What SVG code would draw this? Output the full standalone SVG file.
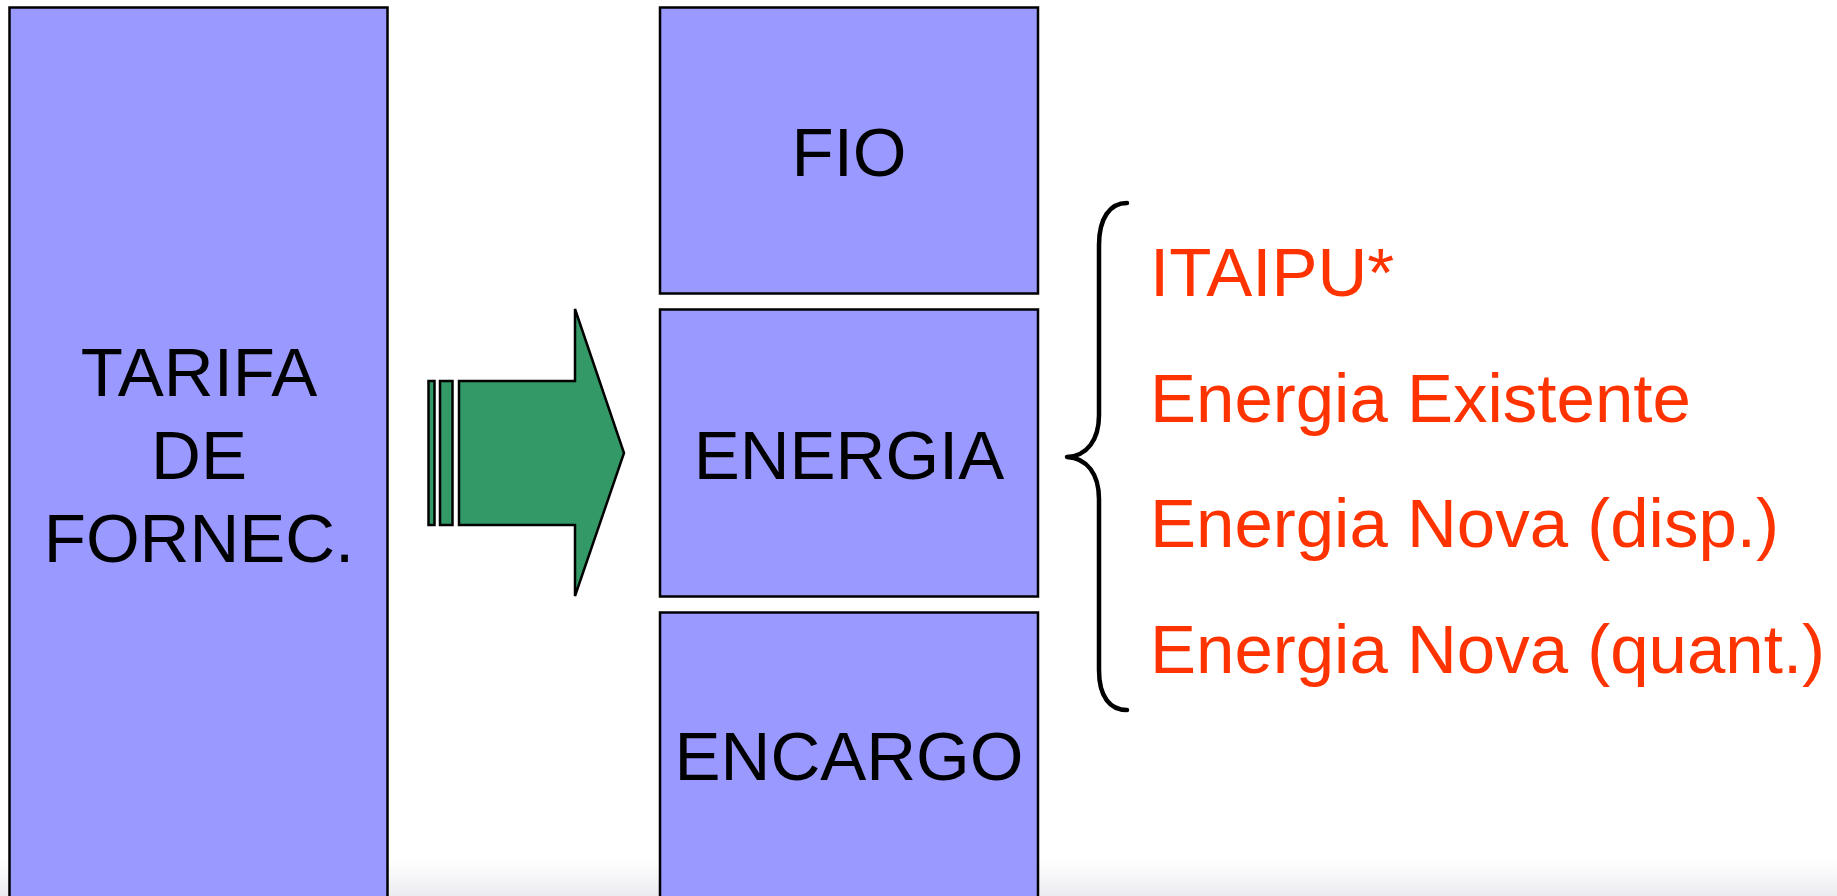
<svg xmlns="http://www.w3.org/2000/svg" width="1837" height="896" viewBox="0 0 1837 896">
<defs>
<linearGradient id="bg" x1="0" y1="0" x2="0" y2="1">
<stop offset="0" stop-color="#ffffff"/>
<stop offset="1" stop-color="#ececf0"/>
</linearGradient>
<style>
.box{fill:#9999FF;stroke:#000;stroke-width:2.5}
.lbl{font-family:"Liberation Sans",Arial,sans-serif;font-size:69px;fill:#000;text-anchor:middle}
.red{font-family:"Liberation Sans",Arial,sans-serif;font-size:69px;fill:#FF3300}
.arrow{fill:#339966;stroke:#000;stroke-width:2.5}
.brace{fill:none;stroke:#000;stroke-width:4.5;stroke-linecap:round;stroke-linejoin:round}
</style>
</defs>
<rect x="0" y="0" width="1837" height="896" fill="#ffffff"/>
<rect x="0" y="860" width="1837" height="36" fill="url(#bg)"/>
<g id="tarifa">
<rect class="box" x="9.5" y="7.5" width="378" height="900"/>
<text class="lbl" x="199" y="396">TARIFA</text>
<text class="lbl" x="199" y="479">DE</text>
<text class="lbl" x="199" y="562">FORNEC.</text>
</g>
<g id="fio">
<rect class="box" x="660" y="7.5" width="378" height="286"/>
<text class="lbl" x="849" y="176">FIO</text>
</g>
<g id="energia">
<rect class="box" x="660" y="309.5" width="378" height="287"/>
<text class="lbl" x="849" y="479">ENERGIA</text>
</g>
<g id="encargo">
<rect class="box" x="660" y="612.5" width="378" height="300"/>
<text class="lbl" x="849" y="780">ENCARGO</text>
</g>
<g id="connectors">
<g id="arrow">
<rect class="arrow" x="428.5" y="381" width="6" height="144"/>
<rect class="arrow" x="440" y="381" width="12.5" height="144"/>
<path class="arrow" d="M459,381 L575,381 L575,309 L624,453 L575,596 L575,525 L459,525 Z"/>
</g>
<path id="brace" class="brace" d="M1127,203 C1110,203 1099,218 1099,245 L1099,415 C1099,440 1087,456 1067,457 C1087,458 1099,474 1099,499 L1099,670 C1099,697 1110,710 1127,710"/>
</g>
<g id="list">
<text class="red" x="1150" y="296">ITAIPU*</text>
<text class="red" x="1150" y="422">Energia Existente</text>
<text class="red" x="1150" y="547">Energia Nova (disp.)</text>
<text class="red" x="1150" y="673">Energia Nova (quant.)</text>
</g>
</svg>
